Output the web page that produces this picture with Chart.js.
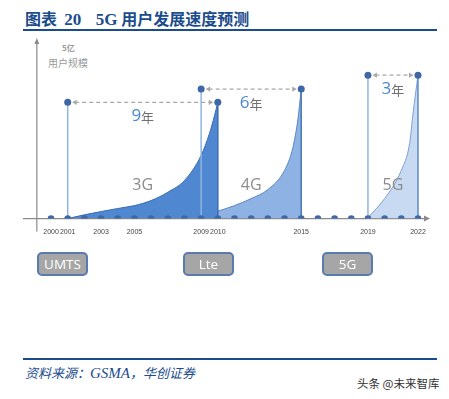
<!DOCTYPE html>
<html>
<head>
<meta charset="utf-8">
<script src="https://cdn.jsdelivr.net/npm/chart.js@4.4.0/dist/chart.umd.min.js"></script>
<style>
  body { margin: 0; background: #fff; width: 449px; height: 399px; position: relative; overflow: hidden; font-family: "Noto Sans CJK SC", sans-serif; }
  #title { position: absolute; left: 25px; top: 6px; font-size: 16px; font-weight: bold; color: #1b4c8c; white-space: nowrap; }
  #title .num { font-family: "Liberation Serif", serif; font-size: 17px; }
  .rule { position: absolute; left: 23px; width: 414px; background: #1b4c8c; }
  #wrap { position: absolute; left: 0; top: 0; width: 449px; height: 254px; }
  .box { position: absolute; top: 252px; width: 47px; height: 20px; background: #a6a6a6; border: 2px solid #5a7bb0; border-radius: 5px; color: #fff; font-family: "Open Sans", sans-serif; font-size: 13.5px; line-height: 20px; text-align: center; }
  #unit1 { position: absolute; left: 62px; top: 42px; font-size: 8px; font-weight: bold; color: #999; }
  #unit2 { position: absolute; left: 48px; top: 55px; font-size: 10px; color: #999; }
  #src { position: absolute; left: 25px; top: 363px; font-size: 13px; font-style: italic; color: #1b4c8c; font-family: "Noto Sans CJK SC", serif; }
  #src .en { font-family: "Liberation Serif", serif; font-size: 15px; }
  #wm { position: absolute; left: 357px; top: 375px; font-size: 11.5px; color: #333; }
</style>
</head>
<body>
<div id="title">图表&nbsp; <span class="num">20</span>&nbsp;&nbsp;&nbsp; <span class="num">5G</span> 用户发展速度预测</div>
<div class="rule" style="top:29px;height:2px"></div>
<div id="unit1">5亿</div>
<div id="unit2">用户规模</div>
<div id="wrap"><canvas id="c"></canvas></div>
<div class="box" style="left:37px">UMTS</div>
<div class="box" style="left:183px">Lte</div>
<div class="box" style="left:322px">5G</div>
<div class="rule" style="top:358px;height:2px"></div>
<div id="src">资料来源：<span class="en">GSMA</span>，华创证券</div>
<div id="wm">头条 @未来智库</div>
<script>
// timeline
const timelineYears = [2000, 2001, 2002, 2003, 2004, 2005, 2006, 2007, 2008, 2009, 2010, 2011,
  2012, 2013, 2014, 2015, 2016, 2017, 2018, 2019, 2020, 2021, 2022];
const tickYears = [2000, 2001, 2003, 2005, 2009, 2010, 2015, 2019, 2022];

// growth curves (user scale, relative)
const g3Years = [2001, 2002, 2003, 2004, 2005, 2006, 2007, 2008, 2009, 2009.5, 2009.8, 2010];
const g3Values = [0, 2.1, 3.9, 5.6, 7.2, 10, 14.6, 21.1, 35, 47.2, 57, 64.4];
const g4Years = [2010, 2011, 2012, 2013, 2014, 2014.5, 2014.8, 2015];
const g4Values = [4.1, 7.2, 11.1, 16.1, 26.7, 39.4, 55, 71.7];
const g5Years = [2019, 2020, 2021, 2021.5, 2021.7, 2022];
const g5Values = [0.5, 11.1, 26.7, 41.7, 58, 79.4];

// vertical markers: year, height
const markerYears = [2001, 2009, 2015, 2019, 2022];
const markerValues = [64.4, 71.7, 71.7, 79.4, 79.4];

// spans between generations
const spanStart = [2001, 2009, 2019];
const spanEnd = [2010, 2015, 2022];
const spanHeight = [64.4, 71.7, 79.4];
const spanYears = ['9', '6', '3'];
const genLabels = ['3G', '4G', '5G'];

const markerColors = ['#8fb4e3', '#8fb4e3', '#4a78b8', '#8fb4e3', '#5f8ccc'];
const dotColor = '#3f67a5';

const datasets = [];
datasets.push({ label: '3G', order: 5, data: g3Years.map((x, i) => ({ x, y: g3Values[i] })),
  borderColor: '#3b6db4', borderWidth: 1, backgroundColor: '#4f87d1', fill: 'origin',
  cubicInterpolationMode: 'monotone', pointRadius: 0 });
datasets.push({ label: '4G', order: 5, data: g4Years.map((x, i) => ({ x, y: g4Values[i] })),
  borderColor: '#5d86c0', borderWidth: 1, backgroundColor: '#8db2e3', fill: 'origin',
  cubicInterpolationMode: 'monotone', pointRadius: 0 });
datasets.push({ label: '5G', order: 5, data: g5Years.map((x, i) => ({ x, y: g5Values[i] })),
  borderColor: '#7a9fd2', borderWidth: 1, backgroundColor: '#c7daf2', fill: 'origin',
  cubicInterpolationMode: 'monotone', pointRadius: 0 });

// edge of the 3G area
datasets.push({ order: 3, data: [{ x: 2010, y: 0 }, { x: 2010, y: 64.4 }], borderColor: '#3b6db4', borderWidth: 1.5,
  pointRadius: [0, 3.5], pointBackgroundColor: dotColor, pointBorderWidth: 0, fill: false });

markerYears.forEach((yr, i) => {
  datasets.push({ order: 3, data: [{ x: yr, y: 0 }, { x: yr, y: markerValues[i] }], borderColor: markerColors[i],
    borderWidth: 1.5, pointRadius: [0, 3.5], pointBackgroundColor: dotColor, pointBorderWidth: 0, fill: false });
});

// dashed span arrows
spanStart.forEach((s, i) => {
  datasets.push({ order: 2, data: [{ x: s + 0.45, y: spanHeight[i] }, { x: spanEnd[i] - 0.45, y: spanHeight[i] }],
    borderColor: '#a8a8a8', borderWidth: 1.2, borderDash: [4, 3], fill: false,
    pointStyle: 'triangle', pointRadius: 3, pointRotation: [-90, 90],
    pointBackgroundColor: '#a8a8a8', pointBorderWidth: 0 });
});

// timeline dots
datasets.push({ type: 'scatter', order: 1, data: timelineYears.map(x => ({ x, y: 0 })),
  pointRadius: 3.3, pointBackgroundColor: dotColor, pointBorderWidth: 0 });

const axesPlugin = {
  id: 'axesPlugin',
  beforeDatasetsDraw(chart) {
    const { ctx, scales: { x, y } } = chart;
    const y0 = y.getPixelForValue(0);
    const xl = chart.chartArea.left, xr = chart.chartArea.right;
    const ax = x.getPixelForValue(1999.15);
    ctx.save();
    ctx.strokeStyle = '#8a8a8a';
    ctx.fillStyle = '#8a8a8a';
    ctx.lineWidth = 1.2;
    ctx.beginPath();
    ctx.moveTo(xl, y0); ctx.lineTo(xr - 4, y0);
    ctx.moveTo(ax, y0 + 13); ctx.lineTo(ax, chart.chartArea.top + 4);
    ctx.stroke();
    ctx.beginPath();
    ctx.moveTo(xr, y0); ctx.lineTo(xr - 6, y0 - 3); ctx.lineTo(xr - 6, y0 + 3); ctx.closePath();
    ctx.moveTo(ax, chart.chartArea.top); ctx.lineTo(ax - 2.5, chart.chartArea.top + 6); ctx.lineTo(ax + 2.5, chart.chartArea.top + 6); ctx.closePath();
    ctx.fill();
    ctx.restore();
  },
  afterDatasetsDraw(chart) {
    const { ctx, scales: { x, y } } = chart;
    const y0 = y.getPixelForValue(0);
    ctx.save();
    ctx.textBaseline = 'middle';
    spanStart.forEach((s, i) => {
      const mx = x.getPixelForValue((s + spanEnd[i]) / 2);
      // generation label
      ctx.font = '16px "Open Sans", sans-serif';
      ctx.fillStyle = '#8c8c8c';
      ctx.textAlign = 'center';
      ctx.fillText(genLabels[i], mx, y0 - 33);
      // years label
      const py = y.getPixelForValue(spanHeight[i]) + 14;
      ctx.font = '17px "Open Sans", sans-serif';
      const w1 = ctx.measureText(spanYears[i]).width;
      ctx.font = '13px "Noto Sans CJK SC", sans-serif';
      const w2 = ctx.measureText('年').width;
      const left = mx - (w1 + w2) / 2;
      ctx.textAlign = 'left';
      ctx.font = '17px "Open Sans", sans-serif';
      ctx.fillStyle = '#4a86d0';
      ctx.fillText(spanYears[i], left, py);
      ctx.font = '13px "Noto Sans CJK SC", sans-serif';
      ctx.fillStyle = '#707070';
      ctx.fillText('年', left + w1, py + 1);
    });
    ctx.restore();
  }
};

new Chart(document.getElementById('c'), {
  type: 'line',
  data: { datasets },
  options: {
    responsive: true,
    maintainAspectRatio: false,
    animation: false,
    layout: { padding: { left: 23, right: 19, top: 38, bottom: 9 } },
    plugins: { legend: { display: false }, tooltip: { enabled: false } },
    scales: {
      x: {
        type: 'linear', min: 1998.32, max: 2022.72,
        grid: { display: false, drawTicks: false }, border: { display: false },
        afterBuildTicks: axis => { axis.ticks = tickYears.map(v => ({ value: v })); },
        ticks: { autoSkip: false, maxRotation: 0, padding: 9, color: '#444',
          font: { size: 7, family: 'Liberation Sans' }, callback: v => String(v) }
      },
      y: { display: false, min: 0, max: 100 }
    }
  },
  plugins: [axesPlugin]
});
</script>
</body>
</html>
